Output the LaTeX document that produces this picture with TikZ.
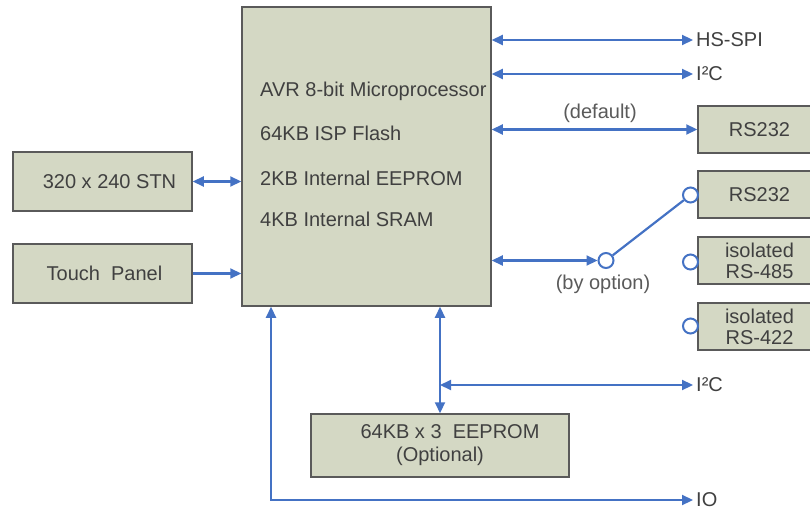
\documentclass[tikz,border=0pt]{standalone}
\usepackage{fontspec}
\setmainfont{Liberation Sans}
\usetikzlibrary{arrows.meta}
\definecolor{boxfill}{RGB}{212,216,196}
\definecolor{boxdraw}{RGB}{90,90,90}
\definecolor{lineblue}{RGB}{68,114,196}
\definecolor{txt}{RGB}{64,64,64}
\definecolor{lbl}{RGB}{90,90,90}
\begin{document}
\begin{tikzpicture}[x=1pt,y=-1pt,
  blk/.style={draw=boxdraw,fill=boxfill,line width=1.5pt,rectangle,inner sep=0pt,text=txt,font=\fontsize{20}{23}\selectfont,align=center},
  lab/.style={inner sep=0pt,text=txt,font=\fontsize{20}{23}\selectfont,anchor=west},
  note/.style={inner sep=0pt,text=lbl,font=\fontsize{20}{23}\selectfont},
  conn/.style={draw=lineblue,line width=2.2pt},
  bi/.style={conn,{Triangle[length=11pt,width=10pt]}-{Triangle[length=11pt,width=10pt]}},
  uni/.style={conn,-{Triangle[length=11pt,width=10pt]}},
  sw/.style={circle,draw=lineblue,line width=2pt,fill=white,minimum size=15pt,inner sep=0pt}]
\useasboundingbox (0,0) rectangle (810,510);
% blocks
\node[blk,minimum width=249pt,minimum height=299pt] (main) at (366.5,156.5) {};
\node[lab] (t1) at (260,91) {AVR 8-bit Microprocessor};
\node[lab] (t2) at (260,133) {64KB ISP Flash};
\node[lab] (t3) at (260,178) {2KB Internal EEPROM};
\node[lab] (t4) at (260,219) {4KB Internal SRAM};
\node[blk,minimum width=179pt,minimum height=59pt] (stn) at (102.5,181.5) {\hspace*{14pt}320 x 240 STN};
\node[blk,minimum width=179pt,minimum height=59pt] (touch) at (102.5,273.5) {\hspace*{4pt}Touch\ \ Panel};
\node[blk,minimum width=117pt,minimum height=47pt] (rsa) at (756.5,129.5) {\hspace*{6pt}RS232};
\node[blk,minimum width=117pt,minimum height=47pt,font=\fontsize{20}{21}\selectfont] (rsb) at (756.5,194.5) {\hspace*{6pt}RS232};
\node[blk,minimum width=117pt,minimum height=47pt,font=\fontsize{20}{21}\selectfont] (rs485) at (756.5,260.5) {\hspace*{6pt}isolated\\\hspace*{6pt}RS-485};
\node[blk,minimum width=117pt,minimum height=47pt,font=\fontsize{20}{21}\selectfont] (rs422) at (756.5,326.5) {\hspace*{6pt}isolated\\\hspace*{6pt}RS-422};
\node[blk,minimum width=258pt,minimum height=63pt,font=\fontsize{20}{23}\selectfont] (eep) at (440,445.5) {\hspace*{20pt}64KB x 3\ \ EEPROM\\(Optional)};
% labels
\node[lab] (hsspi) at (696,40) {HS-SPI};
\node[lab] (i2ca) at (696,74) {I²C};
\node[lab] (i2cb) at (696,385) {I²C};
\node[lab] (io) at (696,500) {IO};
\node[note] (def) at (600,113) {(default)};
\node[note] (opt) at (603,284) {(by option)};
% switch circles
\node[sw] (c0) at (606,260.5) {};
\node[sw] (c1) at (690.5,195) {};
\node[sw] (c2) at (690.5,262) {};
\node[sw] (c3) at (690.5,326) {};
% connectors
\draw[bi] (main.east |- hsspi.west) -- ([xshift=-3pt]hsspi.west);
\draw[bi] (main.east |- i2ca.west) -- ([xshift=-3pt]i2ca.west);
\draw[bi] (main.east |- rsa.west) -- (rsa.west);
\draw[bi] (main.east |- c0.west) -- (c0.west);
\draw[conn] (c0) -- (c1);
\draw[bi] (stn.east) -- (main.west |- stn.east);
\draw[uni] (touch.east) -- (main.west |- touch.east);
\coordinate (vtop) at (440,306);
\draw[bi] (main.south -| vtop) -- (eep.north);
\coordinate (br) at (440,385);
\draw[bi] (br) -- ([xshift=-3pt]i2cb.west);
\coordinate (iot) at (271,306);
\draw[bi] (main.south -| iot) |- ([xshift=-3pt]io.west);
\end{tikzpicture}
\end{document}
